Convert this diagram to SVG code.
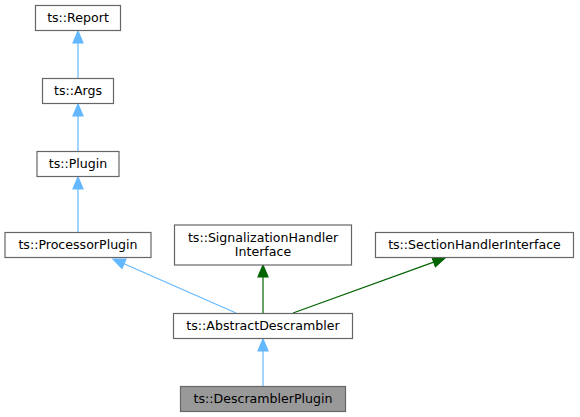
<svg xmlns="http://www.w3.org/2000/svg" width="580" height="417" viewBox="0 0 580 417">
<style>
.box{fill:#fff;stroke:#666;stroke-width:1.2}
.sel{fill:#999;stroke:#666;stroke-width:1.2}
text{font-family:"DejaVu Sans",sans-serif;font-size:12.6px;fill:#000;text-anchor:middle}
.pub{stroke:#63b8ff;fill:none;stroke-width:1.2}
.pubh{fill:#63b8ff;stroke:#63b8ff;stroke-width:1.2}
.prt{stroke:#006400;fill:none;stroke-width:1.2}
.prth{fill:#006400;stroke:#006400;stroke-width:1.2}
</style>
<rect width="580" height="417" fill="#fff"/>
<g id="edges">
<path class="pub" d="M78,78 V43"/>
<polygon class="pubh" points="78,31 83,43 73,43"/>
<path class="pub" d="M78,151 V116"/>
<polygon class="pubh" points="78,104 83,116 73,116"/>
<path class="pub" d="M78,232 V189"/>
<polygon class="pubh" points="78,177 83,189 73,189"/>
<path class="pub" d="M236,313 L124,263.8"/>
<polygon class="pubh" points="113,259 126,259.2 122,268.4"/>
<path class="prt" d="M263,313 V277"/>
<polygon class="prth" points="263,265 268,277 258,277"/>
<path class="prt" d="M293,313 L433.7,262.1"/>
<polygon class="prth" points="445,258 435.4,266.8 432,257.4"/>
<path class="pub" d="M263,386 V351"/>
<polygon class="pubh" points="263,339 268,351 258,351"/>
</g>
<g id="ts_Report"><rect class="box" x="35.5" y="5.5" width="85" height="25"/><text x="78" y="22">ts::Report</text></g>
<g id="ts_Args"><rect class="box" x="42.5" y="78.5" width="71" height="25"/><text x="78" y="95">ts::Args</text></g>
<g id="ts_Plugin"><rect class="box" x="37" y="151.5" width="82" height="25"/><text x="78" y="168">ts::Plugin</text></g>
<g id="ts_ProcessorPlugin"><rect class="box" x="5" y="232.5" width="146" height="25"/><text x="78" y="249">ts::ProcessorPlugin</text></g>
<g id="ts_SignalizationHandlerInterface"><rect class="box" x="174.5" y="225" width="177" height="40"/><text x="263" y="241.5">ts::SignalizationHandler</text><text x="263" y="256">Interface</text></g>
<g id="ts_SectionHandlerInterface"><rect class="box" x="375.5" y="232.5" width="198" height="25"/><text x="474.5" y="249">ts::SectionHandlerInterface</text></g>
<g id="ts_AbstractDescrambler"><rect class="box" x="173.5" y="313.5" width="179" height="25"/><text x="263" y="330">ts::AbstractDescrambler</text></g>
<g id="ts_DescramblerPlugin"><rect class="sel" x="180.5" y="386.5" width="165" height="25"/><text x="263" y="403">ts::DescramblerPlugin</text></g>
</svg>
